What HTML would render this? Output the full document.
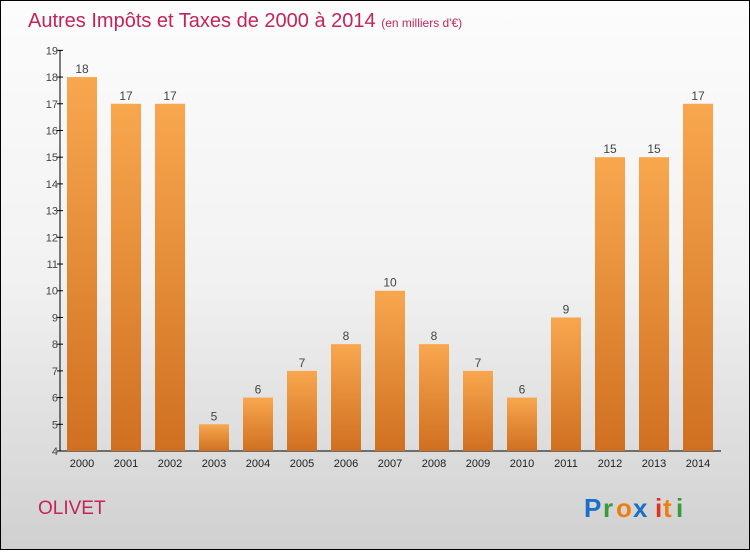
<!DOCTYPE html>
<html><head><meta charset="utf-8"><style>
body{margin:0;width:750px;height:550px;overflow:hidden;font-family:"Liberation Sans",sans-serif}
#c{position:absolute;left:0;top:0;width:748px;height:548px;border:1px solid #000;background:linear-gradient(#fcfcfc 0%,#f2f2f2 50%,#d0d0d0 100%)}
</style></head><body>
<div id="c">
<svg width="748" height="548">
<defs><linearGradient id="g" x1="0" y1="0" x2="0" y2="1"><stop offset="0" stop-color="#f8a74f"/><stop offset="1" stop-color="#cf7020"/></linearGradient></defs>
<text x="27" y="26" font-size="20" fill="#c4245a">Autres Impôts et Taxes de 2000 à 2014 <tspan font-size="12">(en milliers d'€)</tspan></text>
<g id="axis"></g><g id="bars"></g>
<text x="37" y="513" font-size="19" fill="#c4245a">OLIVET</text>
<g font-size="26" font-weight="bold">
<text x="583" y="516" fill="#1a6fc9">P</text><text x="602" y="516" fill="#3a9a3a">r</text><text x="615" y="516" fill="#f07d10">o</text><text x="632" y="516" fill="#1a6fc9">x</text><text x="654" y="516" fill="#e03020">i</text><text x="662" y="516" fill="#f07d10">t</text><text x="675" y="516" fill="#3a9a3a">i</text></g>
</svg></div>
<script>
const years=["2000","2001","2002","2003","2004","2005","2006","2007","2008","2009","2010","2011","2012","2013","2014"];
const values=[18,17,17,5,6,7,8,10,8,7,6,9,15,15,17];
const ticks=[4,5,6,7,8,9,10,11,12,13,14,15,16,17,18,19];
const NS="http://www.w3.org/2000/svg";
const y=v=>450-(v-4)*26.71, x=i=>81+i*44;
function mk(t,a,p){const e=document.createElementNS(NS,t);for(const k in a)e.setAttribute(k,a[k]);p.appendChild(e);return e;}
const ax=document.getElementById('axis'),bs=document.getElementById('bars');
const l=mk('line',{x1:59,y1:y(19),x2:59,y2:y(4),stroke:'#000'},ax);


const xl=mk('line',{x1:59,y1:y(4),x2:720,y2:y(4),stroke:'#000'},ax);


ticks.forEach(t=>{mk('line',{x1:56,y1:y(t),x2:62,y2:y(t),stroke:'#000'},ax);
const tx=mk('text',{x:57,y:y(t)+4,'font-size':11,'text-anchor':'end',fill:'#444'},ax);tx.textContent=t;

});
years.forEach((yr,i)=>{const v=values[i];
const r=mk('rect',{x:x(i)-15,y:y(v),width:30,height:y(4)-y(v),fill:'url(#g)'},bs);


const vl=mk('text',{x:x(i),y:y(v)-4,'font-size':12,'text-anchor':'middle',fill:'#444'},bs);vl.textContent=v;


const xt=mk('text',{x:x(i),y:466,'font-size':11,'text-anchor':'middle',fill:'#222'},bs);xt.textContent=yr;

});
</script></body></html>
